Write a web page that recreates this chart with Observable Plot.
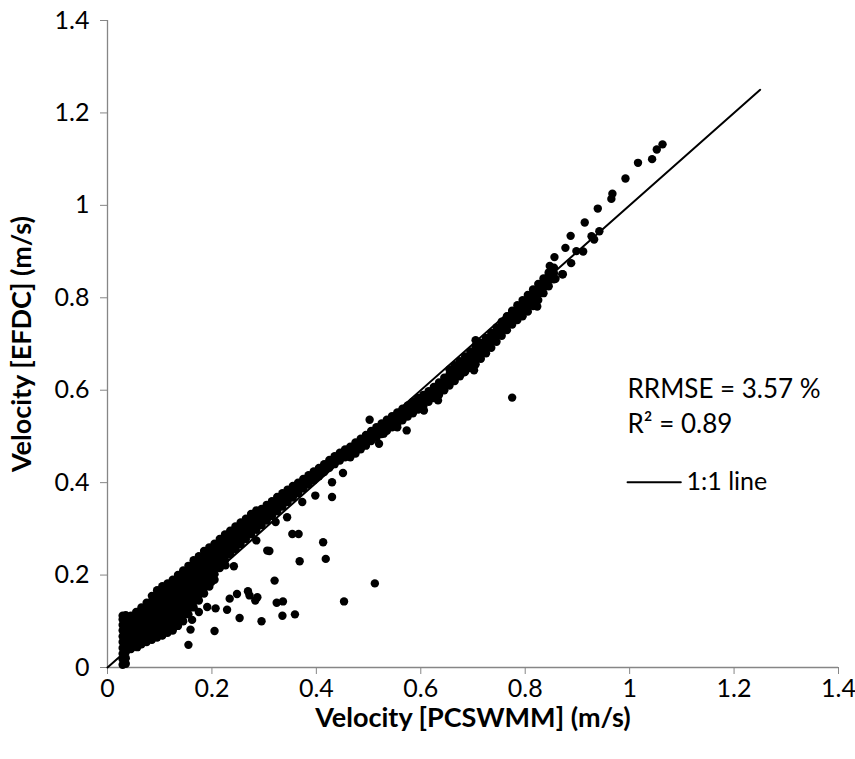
<!DOCTYPE html>
<html>
<head>
<meta charset="utf-8">
<script src="https://cdn.jsdelivr.net/npm/d3@7"></script>
<script src="https://cdn.jsdelivr.net/npm/@observablehq/plot@0.6"></script>
<style>
  html, body { margin: 0; padding: 0; background: #fff; }
  #chart svg { display: block; }
</style>
</head>
<body>
<div id="chart"></div>
<script>
// ---------- data ----------
const xTicks = [0, 0.2, 0.4, 0.6, 0.8, 1, 1.2, 1.4];
const yTicks = [0, 0.2, 0.4, 0.6, 0.8, 1, 1.2, 1.4];
const xTitle = "Velocity [PCSWMM] (m/s)";
const yTitle = "Velocity [EFDC] (m/s)";
const statLines = ["RRMSE = 3.57 %", "R\u00B2 = 0.89"];
const legendLabel = "1:1 line";
const oneToOneX = [0, 1.25];
const oneToOneY = [0, 1.25];

// vertical cluster of low velocities
const clusterPoints = [
  [0.029,0.006],[0.029,0.018],[0.029,0.030],[0.029,0.042],[0.029,0.055],[0.029,0.067],[0.029,0.080],[0.029,0.092],[0.029,0.104],[0.029,0.112],
  [0.035,0.008],[0.035,0.020],[0.035,0.033],[0.035,0.046],[0.035,0.058],[0.035,0.070],[0.035,0.083],[0.035,0.095],[0.035,0.106],[0.035,0.113]
];

// dense main band: column x and the y values seen in that column
const bandX = [0.045,0.055,0.065,0.075,0.085,0.095,0.105,0.115,0.125,0.135,0.145,0.155,0.165,0.175,0.185,0.195,0.205,0.215,0.225,0.235,
  0.245,0.255,0.265,0.275,0.285,0.295,0.305,0.315,0.325,0.335,0.345,0.355,0.365,0.375,0.385,0.395,0.405,0.415,0.425,0.435,
  0.445,0.455,0.465,0.475,0.485,0.495,0.505,0.515,0.525,0.535,0.545,0.555,0.565,0.575,0.585,0.595,0.605,0.615,0.625,0.635,
  0.645,0.655,0.665,0.675,0.685,0.695,0.705,0.715,0.725,0.735,0.745,0.755,0.765,0.775,0.785,0.795,0.805,0.815,0.825,0.835,
  0.845,0.855];
const bandY = [
  [0.040,0.052,0.064,0.076,0.088,0.100,0.112],
  [0.045,0.057,0.069,0.081,0.093,0.105,0.120],
  [0.050,0.062,0.074,0.086,0.098,0.110,0.122,0.130],
  [0.055,0.067,0.079,0.091,0.103,0.115,0.127,0.140],
  [0.060,0.072,0.084,0.096,0.108,0.120,0.132,0.144,0.155],
  [0.065,0.077,0.089,0.101,0.113,0.125,0.137,0.149,0.160,0.167],
  [0.070,0.082,0.094,0.106,0.118,0.130,0.142,0.154,0.166,0.176],
  [0.075,0.087,0.099,0.111,0.123,0.135,0.147,0.159,0.171,0.182],
  [0.080,0.092,0.104,0.116,0.128,0.140,0.152,0.164,0.176,0.190],
  [0.090,0.102,0.114,0.126,0.138,0.150,0.162,0.174,0.186,0.200],
  [0.100,0.112,0.124,0.136,0.148,0.160,0.172,0.184,0.196,0.210],
  [0.115,0.127,0.139,0.151,0.163,0.175,0.187,0.199,0.211,0.220],
  [0.130,0.142,0.154,0.166,0.178,0.190,0.202,0.214,0.226,0.232],
  [0.145,0.157,0.169,0.181,0.193,0.205,0.217,0.229,0.241],
  [0.160,0.172,0.184,0.196,0.208,0.220,0.232,0.244,0.252],
  [0.175,0.187,0.199,0.211,0.223,0.235,0.247,0.260],
  [0.190,0.202,0.214,0.226,0.238,0.250,0.262,0.268],
  [0.215,0.228,0.241,0.254,0.266,0.278],
  [0.232,0.244,0.256,0.268,0.280,0.288],
  [0.245,0.257,0.269,0.281,0.296],
  [0.256,0.268,0.280,0.292,0.305],
  [0.267,0.279,0.291,0.303,0.314],
  [0.278,0.290,0.302,0.314,0.322],
  [0.288,0.300,0.312,0.324,0.332],
  [0.298,0.310,0.322,0.334,0.340],
  [0.308,0.320,0.332,0.343],
  [0.318,0.330,0.342,0.352],
  [0.328,0.340,0.352,0.360],
  [0.338,0.350,0.361,0.369],
  [0.348,0.359,0.370,0.377],
  [0.358,0.368,0.378,0.385],
  [0.368,0.377,0.386,0.393],
  [0.377,0.386,0.395,0.400],
  [0.387,0.396,0.404,0.408],
  [0.396,0.405,0.413,0.416],
  [0.405,0.414,0.421,0.424],
  [0.414,0.422,0.429,0.432],
  [0.423,0.431,0.437,0.440],
  [0.432,0.440,0.446,0.449],
  [0.440,0.448,0.454,0.457],
  [0.448,0.456,0.462,0.465],
  [0.455,0.463,0.469,0.472],
  [0.455,0.465,0.475,0.478],
  [0.463,0.473,0.483,0.487],
  [0.472,0.482,0.492,0.495],
  [0.480,0.490,0.500,0.503],
  [0.490,0.500,0.508,0.512],
  [0.497,0.507,0.516,0.520],
  [0.505,0.515,0.524,0.528],
  [0.512,0.522,0.532,0.536],
  [0.520,0.530,0.540,0.544],
  [0.527,0.538,0.548,0.552],
  [0.535,0.545,0.556,0.560],
  [0.543,0.553,0.563,0.567],
  [0.550,0.560,0.570,0.575],
  [0.558,0.568,0.578,0.583],
  [0.566,0.576,0.586,0.590],
  [0.575,0.585,0.595,0.598],
  [0.583,0.593,0.603,0.607],
  [0.590,0.600,0.610,0.617],
  [0.600,0.610,0.620,0.627],
  [0.610,0.622,0.634,0.645],
  [0.620,0.632,0.644,0.654],
  [0.630,0.642,0.654,0.663],
  [0.640,0.652,0.664,0.673],
  [0.648,0.660,0.672,0.684],
  [0.656,0.668,0.680,0.695,0.708],
  [0.668,0.680,0.692,0.703],
  [0.680,0.692,0.704,0.713],
  [0.692,0.704,0.715,0.724],
  [0.705,0.717,0.728,0.736],
  [0.718,0.730,0.740,0.748],
  [0.730,0.742,0.752,0.760],
  [0.742,0.754,0.764,0.772],
  [0.752,0.764,0.776,0.784],
  [0.760,0.772,0.785,0.795],
  [0.770,0.782,0.795,0.806],
  [0.782,0.795,0.808,0.818],
  [0.795,0.808,0.820,0.830],
  [0.810,0.823,0.835,0.842],
  [0.825,0.838,0.850,0.855],
  [0.840,0.853,0.865]
];

// scattered points below the band
const scatterPoints = [
  [0.057,0.044],[0.105,0.069],[0.155,0.049],[0.159,0.082],[0.205,0.079],[0.162,0.103],[0.175,0.120],[0.140,0.117],[0.133,0.106],
  [0.149,0.123],[0.191,0.131],[0.207,0.128],[0.229,0.125],[0.234,0.149],[0.248,0.159],[0.253,0.107],[0.269,0.165],
  [0.272,0.156],[0.283,0.145],[0.287,0.152],[0.295,0.100],[0.320,0.188],[0.324,0.140],[0.336,0.143],[0.335,0.112],
  [0.359,0.115],[0.368,0.230],[0.310,0.252],[0.306,0.253],[0.354,0.289],[0.366,0.289],[0.413,0.271],[0.418,0.235],
  [0.453,0.143],[0.512,0.182],[0.398,0.372],[0.430,0.369],[0.196,0.212],[0.199,0.185],[0.210,0.219],[0.226,0.221],
  [0.242,0.219],[0.285,0.275],[0.344,0.325],[0.245,0.257],[0.322,0.315],[0.451,0.421],[0.430,0.401],[0.373,0.358],
  [0.775,0.584],[0.502,0.536],[0.529,0.506],[0.555,0.520],[0.573,0.513],[0.520,0.484],[0.644,0.603],[0.633,0.578],
  [0.683,0.639],[0.702,0.643],[0.606,0.556],[0.561,0.549]
];

// sparse points at high velocities
const upperPoints = [
  [1.063,1.132],[1.052,1.121],[1.043,1.100],[1.016,1.092],[0.992,1.058],[0.967,1.025],[0.965,1.014],[0.939,0.993],
  [0.914,0.963],[0.942,0.944],[0.927,0.933],[0.932,0.926],[0.887,0.934],[0.877,0.908],[0.898,0.901],[0.911,0.900],
  [0.888,0.875],[0.872,0.851],[0.856,0.888],[0.847,0.869],[0.871,0.851],[0.858,0.841],[0.829,0.816],[0.823,0.781]
];

// ---------- build tables ----------
const bandPoints = bandX.flatMap((x, i) => bandY[i].map(y => [x, y]));
const allPoints = [...clusterPoints, ...bandPoints, ...scatterPoints, ...upperPoints]
  .map(([x, y]) => ({x, y}));
const oneToOne = oneToOneX.map((x, i) => ({x, y: oneToOneY[i]}));

// annotation placement (data space)
const annX = 0.996;
const statY = [0.602, 0.526];
const legY = 0.401;
const legLine = [{x: annX, y: legY}, {x: 1.098, y: legY}];

const fmt = d3.format("~g");
const axisGray = "#868686";
const font = "Lato, 'Open Sans', sans-serif";

const chart = Plot.plot({
  width: 855,
  height: 759,
  marginLeft: 107,
  marginRight: 17,
  marginTop: 20,
  marginBottom: 92,
  style: {fontFamily: font, fontSize: "25px", background: "#fff", color: "#000"},
  x: {domain: [0, 1.4]},
  y: {domain: [0, 1.4]},
  marks: [
    Plot.ruleY([0], {stroke: axisGray, strokeWidth: 1.3}),
    Plot.ruleX([0], {stroke: axisGray, strokeWidth: 1.3}),
    Plot.axisX({ticks: xTicks, tickFormat: fmt, tickSize: 7, tickPadding: 5, stroke: axisGray, fill: "#000", label: null, fontSize: 25}),
    Plot.axisY({ticks: yTicks, tickFormat: fmt, tickSize: 7, tickPadding: 11, stroke: axisGray, fill: "#000", label: null, fontSize: 25}),
    Plot.line(oneToOne, {x: "x", y: "y", stroke: "#000", strokeWidth: 2}),
    Plot.dot(allPoints, {x: "x", y: "y", r: 4.2, fill: "#000", stroke: "none"}),
    Plot.text(statLines, {x: () => annX, y: (d, i) => statY[i], text: d => d, textAnchor: "start", fontSize: 26, fill: "#000"}),
    Plot.line(legLine, {x: "x", y: "y", stroke: "#000", strokeWidth: 2}),
    Plot.text([legendLabel], {x: () => 1.109, y: () => legY, text: d => d, textAnchor: "start", fontSize: 25, fill: "#000"}),
    Plot.text([xTitle], {frameAnchor: "bottom", dy: 51, lineAnchor: "middle", textAnchor: "middle", text: d => d, fontWeight: "bold", fontSize: 27, fill: "#000"}),
    Plot.text([yTitle], {frameAnchor: "left", dx: -85, rotate: -90, textAnchor: "middle", lineAnchor: "middle", text: d => d, fontWeight: "bold", fontSize: 27, fill: "#000"})
  ]
});
document.getElementById("chart").appendChild(chart);
</script>
</body>
</html>
